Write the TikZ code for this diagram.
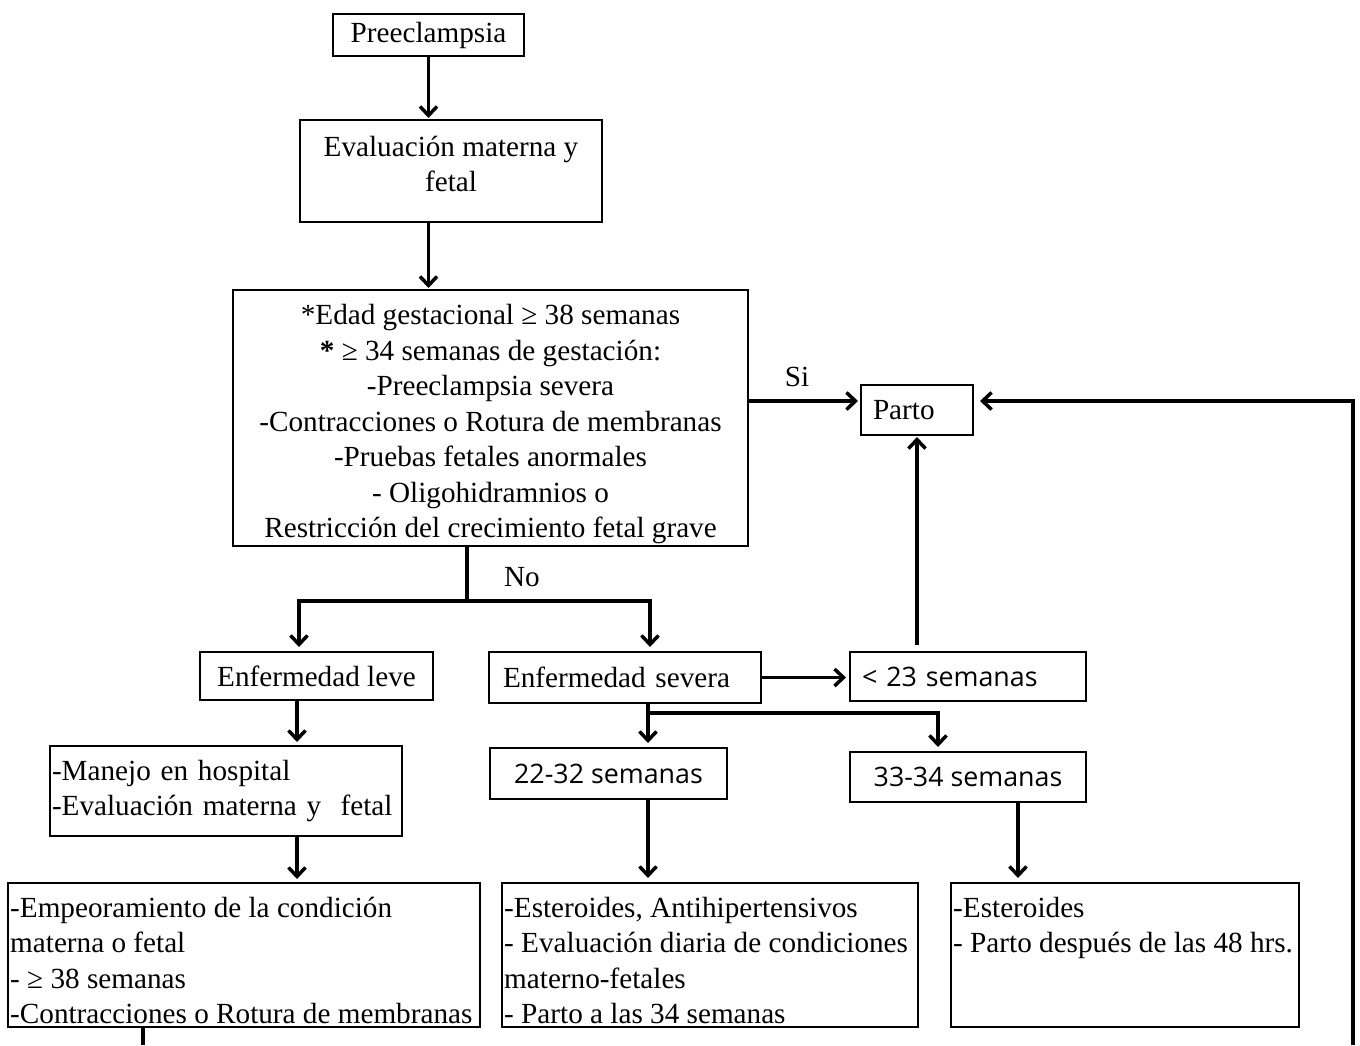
\documentclass[tikz,border=0pt]{standalone}
\usepackage{fontspec}
\setmainfont{Liberation Serif}
\newfontfamily\sansf{Open Sans}
\usetikzlibrary{arrows.meta}
\newcommand{\txl}[1]{\mbox{\strut#1}}
\begin{document}
\begin{tikzpicture}[x=1pt,y=-1pt,
  box/.style={draw, line width=1.6pt, inner ysep=0pt, outer sep=0pt,
    font=\fontsize{29.2}{35.5}\selectfont},
  cbox/.style={box, align=center},
  lbox/.style={box, align=left, inner xsep=2pt},
  txt/.style={inner sep=0pt, align=left, font=\fontsize{29.2}{35.5}\selectfont},
  sbox/.style={draw, line width=1.6pt, inner ysep=0pt, outer sep=0pt,
    font=\sansf\fontsize{26.8}{32}\selectfont},
  lbl/.style={font=\fontsize{29.2}{35.5}\selectfont, inner sep=0pt},
  conn/.style={line width=3.5pt},
  arr/.style={line width=3.5pt, -{Straight Barb[length=9pt,width=17pt]}}
]
\useasboundingbox (0,0) rectangle (1360,1045);

% boxes
\node[cbox, minimum width=191pt, minimum height=42pt] (pre) at (428.5,35) {Preeclampsia};
\node[cbox, minimum width=302pt, minimum height=102pt] (eval) at (451,171) {Evaluación materna y\\fetal\rule[-14pt]{0pt}{0pt}};
\node[box, minimum width=515pt, minimum height=256pt] (big) at (490.5,418) {};
\node[txt, align=center, anchor=north] (bigt) at ([yshift=-9.75pt]big.north)
  {\txl{*Edad gestacional ≥ 38 semanas}\\
   \txl{\textbf{*} ≥ 34 semanas de gestación:}\\
   \txl{-Preeclampsia severa}\\
   \txl{-Contracciones o Rotura de membranas}\\
   \txl{-Pruebas fetales anormales}\\
   \txl{- Oligohidramnios o}\\
   \txl{Restricción del crecimiento fetal grave}};
\node[lbox, inner xsep=12pt, text width=88pt, minimum height=50pt] (parto) at (917,410) {Parto};
\node[cbox, minimum width=233pt, minimum height=48pt] (leve) at (316.5,676) {Enfermedad leve};
\node[lbox, inner xsep=14pt, text width=244pt, minimum height=51pt] (sev) at (625,677.5) {Enfermedad severa};
\node[sbox, align=left, inner xsep=12pt, text width=212pt, minimum height=49pt] (lt23) at (968,676.5) {< 23 semanas};
\node[sbox, minimum width=237pt, minimum height=51pt] (s2232) at (608.5,773.5) {22-32 semanas};
\node[sbox, minimum width=236pt, minimum height=50pt] (s3334) at (968,777) {33-34 semanas};
\node[lbox, text width=348pt, minimum height=90pt] (manejo) at (226,791)
  {\mbox{-Manejo en hospital}\\\mbox{-Evaluación materna y \ fetal}};

\node[box, minimum width=472pt, minimum height=144pt] (emp) at (244,955) {};
\node[txt, anchor=north west] (empt) at ([xshift=2pt,yshift=-9pt]emp.north west)
  {\txl{-Empeoramiento de la condición}\\\txl{materna o fetal}\\\txl{- ≥ 38 semanas}\\\txl{-Contracciones o Rotura de membranas}};
\node[box, minimum width=416pt, minimum height=144pt] (mid) at (710,955) {};
\node[txt, anchor=north west] (midt) at ([xshift=2pt,yshift=-9pt]mid.north west)
  {\txl{-Esteroides, Antihipertensivos}\\\txl{- Evaluación diaria de condiciones}\\\txl{materno-fetales}\\\txl{- Parto a las 34 semanas}};
\node[box, minimum width=348pt, minimum height=144pt] (rbox) at (1125,955) {};
\node[txt, anchor=north west] (rboxt) at ([xshift=2pt,yshift=-9pt]rbox.north west)
  {\txl{-Esteroides}\\\txl{- Parto después de las 48 hrs.}};

% labels
\node[lbl] (si) at (797,377) {Si};
\node[lbl] (no) at (522,577) {No};

% helper coordinates
\coordinate (split) at (467,601);
\coordinate (lx) at (299,601);
\coordinate (rx) at (650,601);
\coordinate (sx) at (648,713);
\coordinate (tx) at (938,713);
\coordinate (ux) at (1018,800);
\coordinate (vx) at (297,800);
\coordinate (eb) at (143,1045);
\coordinate (loopbot) at (1353,1045);
\coordinate (partoin) at ([yshift=9pt]parto.west);
\coordinate (partoout) at ([yshift=9pt]parto.east);

% connectors
\draw[arr, shorten >=2pt] (pre.south) -- (pre.south |- eval.north);
\draw[arr, shorten >=2pt] (eval.south -| pre.south) -- (big.north -| pre.south);
\draw[arr, shorten >=3pt] (partoin -| big.east) -- (partoin);
\draw[arr, shorten >=7pt] (loopbot) |- (partoout);
\draw[arr, shorten <=7pt, shorten >=2pt] (lt23.north -| parto.south) -- (parto.south);
\draw[conn] (split |- big.south) -- (split);
\draw[arr, shorten >=5pt] (split) -| (lx |- leve.north);
\draw[arr, shorten >=5pt] (split) -| (rx |- sev.north);
\draw[arr, shorten >=4pt] (sev.east) -- (sev.east -| lt23.west);
\draw[arr, shorten >=5pt] (sev.south -| sx) -- (sx |- s2232.north);
\draw[arr, shorten >=5pt] (sx) -| (tx |- s3334.north);
\draw[arr, shorten >=5pt] (s2232.south -| sx) -- (sx |- mid.north);
\draw[arr, shorten >=5pt] (s3334.south -| ux) -- (ux |- rbox.north);
\draw[arr, shorten >=4pt] (leve.south -| vx) -- (vx |- manejo.north);
\draw[arr, shorten >=4pt] (manejo.south -| vx) -- (vx |- emp.north);
\draw[conn] (emp.south -| eb) -- (eb);
\end{tikzpicture}
\end{document}
